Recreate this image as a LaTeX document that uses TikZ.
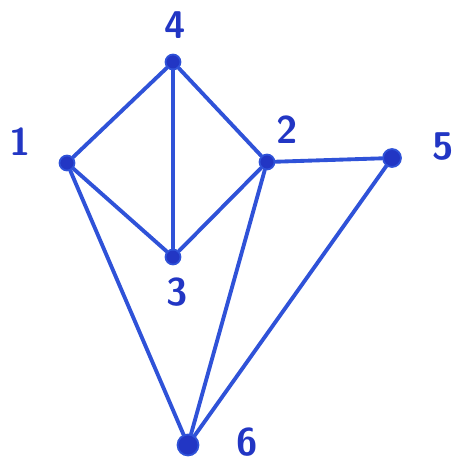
\documentclass[tikz,border=0pt]{standalone}
\usepackage{tikz}
\definecolor{ink}{HTML}{2F52D8}
\definecolor{inkdark}{HTML}{2236C4}

\begin{document}
\begin{tikzpicture}[
  x=0.02cm, y=-0.02cm,
  vert/.style={circle, fill=inkdark, draw=ink, line width=1pt, inner sep=0pt, minimum size=0.3cm},
  lbl/.style={text=inkdark, font=\fontsize{22}{24}\selectfont\sffamily\bfseries},
  edge/.style={draw=ink, line width=2.2pt, line cap=round}
]
\useasboundingbox (0,0) rectangle (460,463);
% vertices
\node[vert] (v1) at (67,163) {};
\node[vert] (v2) at (267,162) {};
\node[vert] (v3) at (173,257) {};
\node[vert] (v4) at (173,62) {};
\node[vert, minimum size=0.36cm] (v5) at (392,158) {};
\node[vert, minimum size=0.42cm] (v6) at (188,445) {};
% labels
\node[lbl] (l1) at (20,142) {1};
\node[lbl] (l2) at (287,130) {2};
\node[lbl] (l3) at (177,292) {3};
\node[lbl] (l4) at (175,25) {4};
\node[lbl] (l5) at (443,147) {5};
\node[lbl] (l6) at (247,442) {6};
% edges
\draw[edge] (v1) -- (v4);
\draw[edge] (v1) -- (v3);
\draw[edge] (v1) -- (v6);
\draw[edge] (v4) -- (v2);
\draw[edge] (v4) -- (v3);
\draw[edge] (v2) -- (v3);
\draw[edge] (v2) -- (v5);
\draw[edge] (v2) -- (v6);
\draw[edge] (v5) -- (v6);
\end{tikzpicture}
\end{document}
